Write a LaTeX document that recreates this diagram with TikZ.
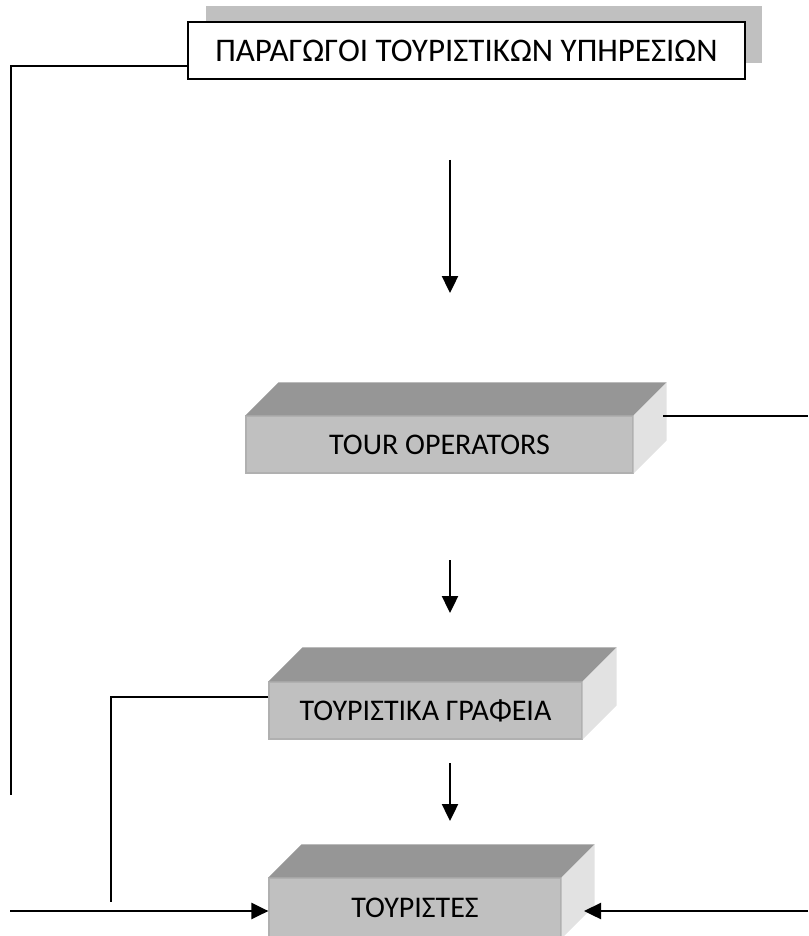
\documentclass[tikz,border=0pt]{standalone}
\usepackage{fontspec}
\setmainfont{Carlito}
\usetikzlibrary{arrows.meta}
\definecolor{frontc}{HTML}{C0C0C0}
\definecolor{topc}{HTML}{969696}
\definecolor{sidec}{HTML}{E2E2E2}
\definecolor{edgec}{HTML}{B0B0B0}
\definecolor{shadowc}{HTML}{C0C0C0}
\tikzset{
  front/.style={rectangle, fill=frontc, draw=edgec, line width=1.2pt, inner sep=0pt, font=\fontsize{30}{33}\selectfont},
  prodbox/.style={rectangle, fill=white, draw=black, line width=1.5pt, inner sep=0pt, font=\fontsize{33}{36}\selectfont},
  conn/.style={line width=2.2pt, draw=black},
  arr/.style={line width=2.4pt, draw=black, -{Triangle[width=16pt,length=17pt]}},
}
\newcommand{\boxdepth}[2]{% name, depth
  \fill[topc] (#1.north west) -- ++(#2,-#2) -- ([shift={(#2,-#2)}]#1.north east) -- (#1.north east) -- cycle;
  \fill[sidec] (#1.north east) -- ++(#2,-#2) -- ([shift={(#2,-#2)}]#1.south east) -- (#1.south east) -- cycle;
}
\begin{document}
\begin{tikzpicture}[x=1pt,y=-1pt]
\useasboundingbox (0,0) rectangle (808,936);
% top producer box with shadow
\fill[shadowc] (206,6) rectangle (762,63);
\node[prodbox, minimum width=557pt, minimum height=57pt] (prod) at (466.5,50.5) {ΠΑΡΑΓΩΓΟΙ ΤΟΥΡΙΣΤΙΚΩΝ ΥΠΗΡΕΣΙΩΝ};
% 3D boxes
\node[front, minimum width=387pt, minimum height=57pt] (to) at (439.5,444.5) {TOUR OPERATORS};
\boxdepth{to}{33}
\node[front, minimum width=313pt, minimum height=57pt] (gr) at (425.5,710.5) {ΤΟΥΡΙΣΤΙΚΑ ΓΡΑΦΕΙΑ};
\boxdepth{gr}{34}
\node[front, minimum width=292pt, minimum height=60pt] (tou) at (415,908) {ΤΟΥΡΙΣΤΕΣ};
\boxdepth{tou}{33}
% coordinates
\coordinate (a1) at (11,66);
\coordinate (a2) at (11,795);
\coordinate (b0) at (663,416);
\coordinate (b1) at (808,416);
\coordinate (c1) at (111,697);
\coordinate (c2) at (111,902);
\coordinate (d1) at (10,911);
\coordinate (e1) at (808,911);
\coordinate (e2) at (584,911);
\coordinate (p1) at (450,160);
\coordinate (p2) at (450,293);
\coordinate (q1) at (450,560);
\coordinate (q2) at (450,613);
\coordinate (r1) at (450,763);
\coordinate (r2) at (450,821);
% connectors
\draw[conn] (prod.west |- a1) -- (a1) -- (a2);
\draw[conn] (b0) -- (b1);
\draw[conn] (gr.west |- c1) -- (c1) -- (c2);
\draw[arr] (p1) -- (p2);
\draw[arr] (q1) -- (q2);
\draw[arr] (r1) -- (r2);
\draw[arr] (d1) -- (tou.west |- d1);
\draw[arr] (e1) -- (e2);
\end{tikzpicture}
\end{document}
